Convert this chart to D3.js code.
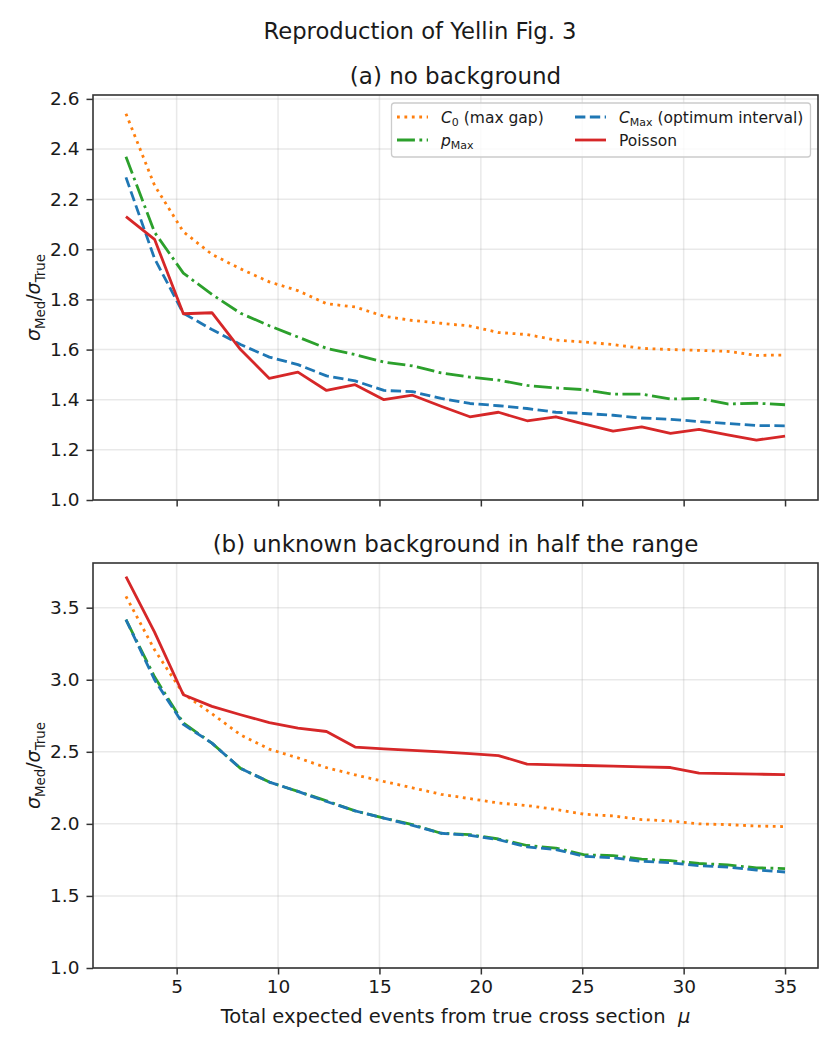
<!DOCTYPE html>
<html>
<head>
<meta charset="utf-8">
<script src="https://cdn.jsdelivr.net/npm/d3@7"></script>
<style>
  body { margin: 0; background: #fff; }
  text { font-family: "DejaVu Sans", sans-serif; fill: #1a1a1a; white-space: pre; }
</style>
</head>
<body>
<svg id="chart" width="840" height="1050"></svg>
<script>
// total expected events mu (x positions of the points)
const mu = [2.5, 3.91, 5.33, 6.74, 8.15, 9.57, 10.98, 12.39, 13.8, 15.22, 16.63, 18.04,
            19.46, 20.87, 22.28, 23.7, 25.11, 26.52, 27.93, 29.35, 30.76, 32.17, 33.59, 35];

// (a) no background
const c0_a      = [2.541, 2.255, 2.07, 1.98, 1.922, 1.87, 1.835, 1.783, 1.77, 1.733, 1.716, 1.705,
                   1.694, 1.668, 1.66, 1.638, 1.63, 1.62, 1.605, 1.6, 1.597, 1.593, 1.577, 1.578];
const pmax_a    = [2.369, 2.068, 1.905, 1.82, 1.745, 1.695, 1.65, 1.605, 1.58, 1.55, 1.535, 1.507,
                   1.49, 1.478, 1.457, 1.447, 1.44, 1.422, 1.422, 1.403, 1.405, 1.383, 1.386, 1.38];
const cmax_a    = [2.287, 1.963, 1.745, 1.68, 1.62, 1.57, 1.54, 1.495, 1.475, 1.437, 1.432, 1.405,
                   1.385, 1.376, 1.365, 1.35, 1.345, 1.338, 1.327, 1.322, 1.313, 1.305, 1.297, 1.296];
const poisson_a = [2.13, 2.04, 1.743, 1.747, 1.6, 1.485, 1.51, 1.437, 1.46, 1.40, 1.418, 1.374,
                   1.332, 1.35, 1.316, 1.332, 1.303, 1.275, 1.292, 1.266, 1.282, 1.26, 1.239, 1.255];

// (b) unknown background in half the range
const c0_b      = [3.579, 3.208, 2.903, 2.764, 2.618, 2.518, 2.458, 2.39, 2.34, 2.294, 2.25, 2.205,
                   2.175, 2.145, 2.127, 2.1, 2.067, 2.055, 2.03, 2.02, 2.0, 1.995, 1.985, 1.981];
const pmax_b    = [3.417, 3.02, 2.7, 2.56, 2.385, 2.29, 2.225, 2.16, 2.09, 2.04, 1.995, 1.935,
                   1.925, 1.895, 1.85, 1.832, 1.785, 1.78, 1.755, 1.745, 1.725, 1.715, 1.695, 1.69];
const cmax_b    = [3.417, 3.0, 2.69, 2.56, 2.385, 2.29, 2.225, 2.155, 2.09, 2.04, 1.99, 1.935,
                   1.92, 1.89, 1.84, 1.822, 1.775, 1.765, 1.74, 1.73, 1.71, 1.7, 1.68, 1.666];
const poisson_b = [3.715, 3.33, 2.896, 2.815, 2.757, 2.703, 2.664, 2.641, 2.533, 2.521, 2.51, 2.499,
                   2.487, 2.474, 2.415, 2.41, 2.405, 2.4, 2.396, 2.391, 2.352, 2.348, 2.345, 2.342];

const xTicks = [5, 10, 15, 20, 25, 30, 35];
const yTicksA = [1.0, 1.2, 1.4, 1.6, 1.8, 2.0, 2.2, 2.4, 2.6];
const yTicksB = [1.0, 1.5, 2.0, 2.5, 3.0, 3.5];

const svg = d3.select("#chart");
const left = 93, right = 818;
const lw = 2.8;

// matplotlib tab10 colours + dash styles
const styles = {
  c0:      { color: "#ff7f0e", dash: [1 * lw, 1.65 * lw].join(",") },
  pmax:    { color: "#2ca02c", dash: [6.4 * lw, 1.6 * lw, 1 * lw, 1.6 * lw].join(",") },
  cmax:    { color: "#1f77b4", dash: [3.7 * lw, 1.6 * lw].join(",") },
  poisson: { color: "#d62728", dash: null }
};

const x = d3.scaleLinear().domain([0.875, 36.625]).range([left, right]);

svg.append("text")
  .attr("x", 420).attr("y", 39)
  .attr("text-anchor", "middle")
  .style("font-size", "22.7px")
  .text("Reproduction of Yellin Fig. 3");

function drawPanel(top, bottom, ymax, yTicks, title, series, showXLabels, withLegend) {
  const y = d3.scaleLinear().domain([1.0, ymax]).range([bottom, top]);
  const g = svg.append("g");

  // grid
  g.selectAll(".gx").data(xTicks).enter().append("line")
    .attr("x1", d => x(d)).attr("x2", d => x(d))
    .attr("y1", top).attr("y2", bottom)
    .attr("stroke", "#b0b0b0").attr("stroke-opacity", 0.28).attr("stroke-width", 1.5);
  g.selectAll(".gy").data(yTicks).enter().append("line")
    .attr("x1", left).attr("x2", right)
    .attr("y1", d => y(d)).attr("y2", d => y(d))
    .attr("stroke", "#b0b0b0").attr("stroke-opacity", 0.28).attr("stroke-width", 1.5);

  // lines
  const line = d3.line().x((d, i) => x(mu[i])).y(d => y(d));
  series.forEach(s => {
    const st = styles[s.key];
    g.append("path")
      .datum(s.values)
      .attr("d", line)
      .attr("fill", "none")
      .attr("stroke", st.color)
      .attr("stroke-width", lw)
      .attr("stroke-linejoin", "round")
      .attr("stroke-dasharray", st.dash);
  });

  // axes
  const ax = g.append("g").attr("transform", `translate(0,${bottom})`)
    .call(d3.axisBottom(x).tickValues(xTicks).tickSize(6.5).tickPadding(5.5)
      .tickFormat(showXLabels ? d3.format("d") : ""));
  const ay = g.append("g").attr("transform", `translate(${left},0)`)
    .call(d3.axisLeft(y).tickValues(yTicks).tickSize(6.5).tickPadding(7).tickFormat(d3.format(".1f")));
  [ax, ay].forEach(a => {
    a.select(".domain").remove();
    a.selectAll(".tick line").attr("stroke", "#333").attr("stroke-width", 1.5);
    a.selectAll(".tick text").style("font-size", "18.5px").attr("fill", "#1a1a1a");
  });

  // frame
  g.append("rect")
    .attr("x", left).attr("y", top)
    .attr("width", right - left).attr("height", bottom - top)
    .attr("fill", "none").attr("stroke", "#333").attr("stroke-width", 1.6);

  // title
  svg.append("text")
    .attr("x", (left + right) / 2).attr("y", top - 11)
    .attr("text-anchor", "middle")
    .style("font-size", "23px")
    .text(title);

  // y label sigma_Med / sigma_True
  const yl = svg.append("text")
    .attr("transform", `translate(40,${(top + bottom) / 2}) rotate(-90)`)
    .attr("text-anchor", "middle")
    .style("font-size", "19px");
  yl.append("tspan").style("font-style", "italic").text("σ");
  yl.append("tspan").attr("dy", 4.5).style("font-size", "13.3px").text("Med");
  yl.append("tspan").attr("dy", -4.5).text("/");
  yl.append("tspan").style("font-style", "italic").text("σ");
  yl.append("tspan").attr("dy", 4.5).style("font-size", "13.3px").text("True");

  if (withLegend) drawLegend(g);
}

function drawLegend(g) {
  const lg = g.append("g");
  lg.append("rect")
    .attr("x", 391.5).attr("y", 103).attr("width", 419).attr("height", 54)
    .attr("rx", 3).attr("fill", "#fff").attr("fill-opacity", 0.8)
    .attr("stroke", "#ccc").attr("stroke-width", 1.3);
  const items = [
    { key: "c0", x: 397, y: 117, label: [["C", "i"], ["0", "sub"], [" (max gap)", ""]] },
    { key: "pmax", x: 397, y: 140, label: [["p", "i"], ["Max", "sub"]] },
    { key: "cmax", x: 575, y: 117, label: [["C", "i"], ["Max", "sub"], [" (optimum interval)", ""]] },
    { key: "poisson", x: 575, y: 140, label: [["Poisson", ""]] }
  ];
  items.forEach(it => {
    const st = styles[it.key];
    lg.append("line")
      .attr("x1", it.x).attr("x2", it.x + 31)
      .attr("y1", it.y).attr("y2", it.y)
      .attr("stroke", st.color).attr("stroke-width", lw)
      .attr("stroke-dasharray", st.dash);
    const t = lg.append("text").attr("x", it.x + 44).attr("y", it.y + 5.5)
      .style("font-size", "15.5px");
    let shifted = false;
    it.label.forEach(([s, kind]) => {
      const ts = t.append("tspan").text(s);
      if (kind === "i") ts.style("font-style", "italic");
      if (kind === "sub") { ts.attr("dy", 3.5).style("font-size", "11px"); shifted = true; }
      else if (shifted) { ts.attr("dy", -3.5); shifted = false; }
    });
  });
}

drawPanel(95, 500, 2.6155, yTicksA, "(a) no background", [
  { key: "c0", values: c0_a },
  { key: "pmax", values: pmax_a },
  { key: "cmax", values: cmax_a },
  { key: "poisson", values: poisson_a }
], false, true);

drawPanel(563, 968, 3.81, yTicksB, "(b) unknown background in half the range", [
  { key: "c0", values: c0_b },
  { key: "pmax", values: pmax_b },
  { key: "cmax", values: cmax_b },
  { key: "poisson", values: poisson_b }
], true, false);

// x label
const xl = svg.append("text")
  .attr("x", (left + right) / 2).attr("y", 1023)
  .attr("text-anchor", "middle")
  .style("font-size", "19.5px");
xl.append("tspan").text("Total expected events from true cross section  ");
xl.append("tspan").style("font-style", "italic").text("μ");
</script>
</body>
</html>
